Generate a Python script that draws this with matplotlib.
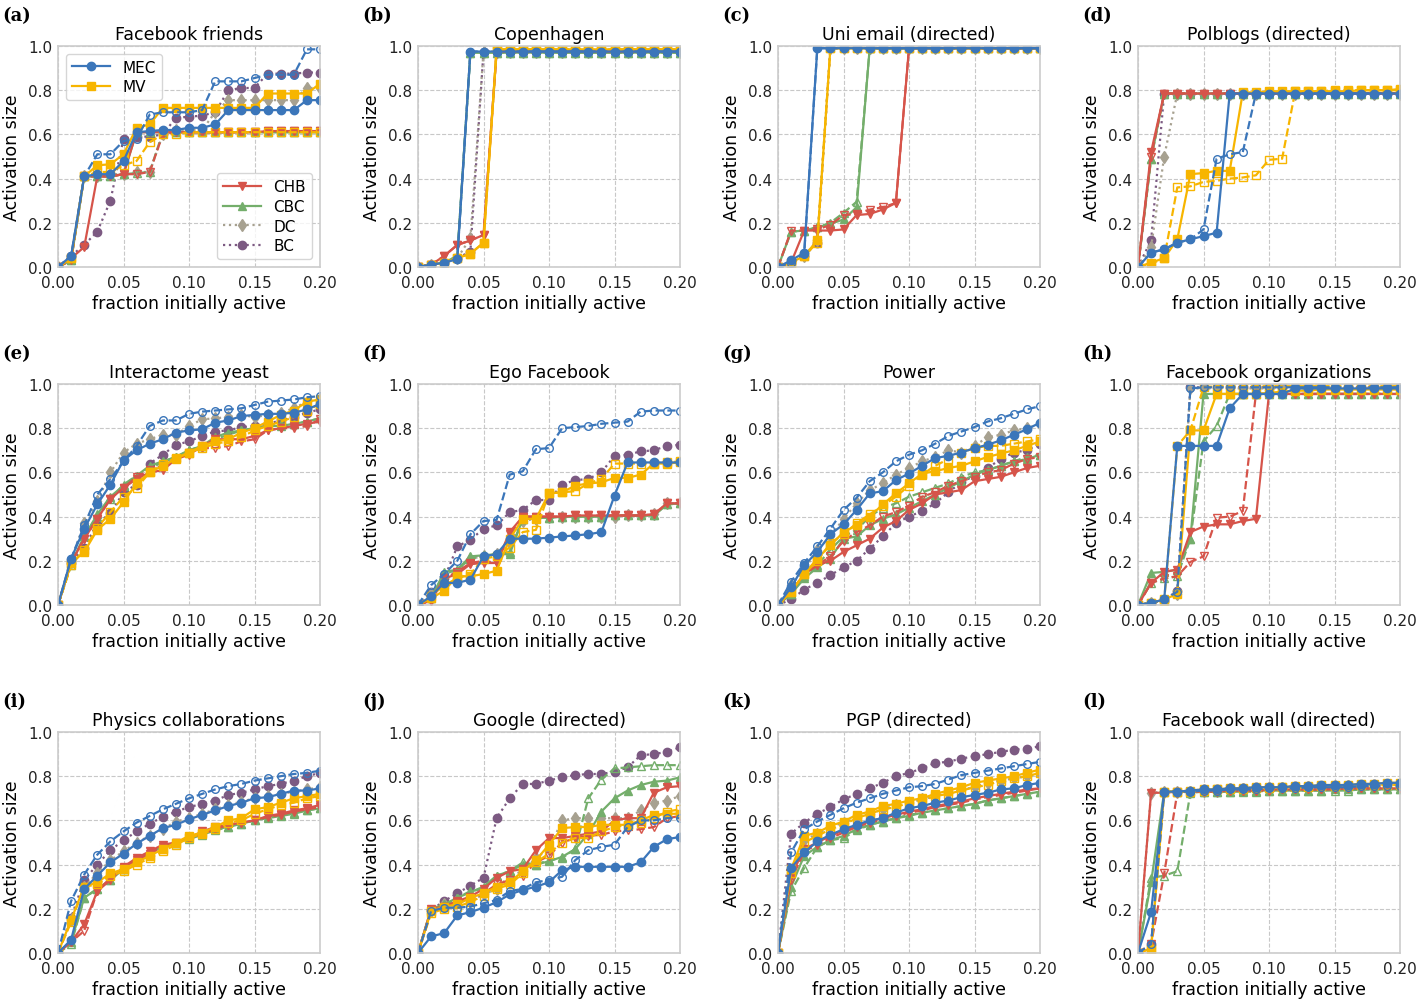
import matplotlib
matplotlib.use("Agg")
import matplotlib.pyplot as plt
from matplotlib.lines import Line2D

# fraction of nodes initially active
frac_active = [0.00, 0.01, 0.02, 0.03, 0.04, 0.05, 0.06, 0.07, 0.08, 0.09, 0.10,
               0.11, 0.12, 0.13, 0.14, 0.15, 0.16, 0.17, 0.18, 0.19, 0.20]

# "_d" = dashed / open-marker variant of a method
facebook_friends = {
    "MEC":   [0, .05, .41, .42, .42, .48, .61, .615, .62, .62, .63, .63, .645, .71, .71, .71, .71, .71, .71, .755, .755],
    "MEC_d": [0, .05, .41, .51, .51, .57, .58, .69, .70, .70, .70, .71, .84, .84, .84, .855, .87, .87, .87, .985, .985],
    "MV":    [0, .04, .41, .46, .465, .51, .63, .645, .72, .72, .72, .72, .72, .72, .72, .72, .785, .785, .785, .785, .83],
    "MV_d":  [0, .04, .41, .43, .43, .46, .48, .565, .60, .60, .61, .61, .61, .61, .61, .61, .61, .61, .61, .61, .61],
    "CHB":   [0, .04, .09, .41, .41, .42, .61, .61, .61, .61, .61, .61, .61, .61, .61, .61, .615, .615, .615, .615, .615],
    "CHB_d": [0, .03, .41, .41, .41, .42, .42, .43, .60, .61, .61, .61, .61, .61, .61, .61, .615, .615, .615, .615, .615],
    "CBC":   [0, .03, .41, .41, .41, .42, .61, .61, .61, .61, .61, .61, .61, .61, .61, .61, .61, .61, .61, .61, .61],
    "CBC_d": [0, .03, .41, .41, .41, .42, .425, .43, .61, .61, .61, .61, .61, .61, .61, .61, .61, .61, .61, .61, .61],
    "DC":    [0, .04, .41, .41, .42, .42, .43, .43, .60, .62, .62, .62, .70, .755, .755, .755, .755, .755, .755, .81, .81],
    "BC":    [0, .05, .10, .16, .30, .58, .59, .59, .60, .675, .68, .685, .70, .80, .81, .81, .875, .875, .875, .88, .88],
}

copenhagen = {
    "MEC":   [0, .01, .02, .035, .975, .975, .975, .975, .975, .975, .975, .975, .975, .975, .975, .975, .975, .975, .975, .975, .975],
    "MEC_d": [0, .01, .02, .035, .975, .975, .975, .975, .975, .975, .975, .975, .975, .975, .975, .975, .975, .975, .975, .975, .975],
    "MV":    [0, .01, .02, .04, .06, .11, .985, .985, .985, .985, .985, .985, .985, .985, .985, .985, .985, .985, .985, .985, .985],
    "MV_d":  [0, .01, .02, .04, .06, .11, .985, .985, .985, .985, .985, .985, .985, .985, .985, .985, .985, .985, .985, .985, .985],
    "CHB":   [0, .01, .05, .10, .12, .145, .975, .975, .975, .975, .975, .975, .975, .975, .975, .975, .975, .975, .975, .975, .975],
    "CHB_d": [0, .01, .05, .10, .12, .145, .975, .975, .975, .975, .975, .975, .975, .975, .975, .975, .975, .975, .975, .975, .975],
    "CBC":   [0, .01, .02, .05, .97, .97, .97, .97, .97, .97, .97, .97, .97, .97, .97, .97, .97, .97, .97, .97, .97],
    "CBC_d": [0, .01, .02, .05, .97, .97, .97, .97, .97, .97, .97, .97, .97, .97, .97, .97, .97, .97, .97, .97, .97],
    "DC":    [0, .01, .02, .04, .13, .975, .975, .975, .975, .975, .975, .975, .975, .975, .975, .975, .975, .975, .975, .975, .975],
    "BC":    [0, .01, .02, .04, .07, .975, .975, .975, .975, .975, .975, .975, .975, .975, .975, .975, .975, .975, .975, .975, .975],
}

uni_email = {
    "MEC":   [0, .03, .065, .99, .99, .99, .99, .99, .99, .99, .99, .99, .99, .99, .99, .99, .99, .99, .99, .99, .99],
    "MEC_d": [0, .02, .06, .99, .99, .99, .99, .99, .99, .99, .99, .99, .99, .99, .99, .99, .99, .99, .99, .99, .99],
    "MV":    [0, .02, .05, .12, .99, .99, .99, .99, .99, .99, .99, .99, .99, .99, .99, .99, .99, .99, .99, .99, .99],
    "MV_d":  [0, .01, .05, .11, .99, .99, .99, .99, .99, .99, .99, .99, .99, .99, .99, .99, .99, .99, .99, .99, .99],
    "CHB":   [0, .02, .165, .165, .165, .17, .235, .24, .26, .29, .99, .99, .99, .99, .99, .99, .99, .99, .99, .99, .99],
    "CHB_d": [0, .165, .165, .17, .19, .235, .24, .26, .27, .29, .99, .99, .99, .99, .99, .99, .99, .99, .99, .99, .99],
    "CBC":   [0, .16, .165, .18, .195, .215, .27, .99, .99, .99, .99, .99, .99, .99, .99, .99, .99, .99, .99, .99, .99],
    "CBC_d": [0, .16, .165, .18, .20, .245, .295, .99, .99, .99, .99, .99, .99, .99, .99, .99, .99, .99, .99, .99, .99],
    "DC":    [0, .02, .05, .12, .99, .99, .99, .99, .99, .99, .99, .99, .99, .99, .99, .99, .99, .99, .99, .99, .99],
    "BC":    [0, .02, .05, .11, .99, .99, .99, .99, .99, .99, .99, .99, .99, .99, .99, .99, .99, .99, .99, .99, .99],
}

polblogs = {
    "MEC":   [0, .065, .08, .11, .125, .14, .155, .785, .785, .785, .785, .785, .785, .785, .785, .785, .785, .785, .785, .785, .785],
    "MEC_d": [0, .065, .08, .11, .125, .17, .49, .51, .52, .785, .785, .785, .785, .785, .785, .785, .785, .785, .785, .785, .785],
    "MV":    [0, .02, .04, .125, .42, .425, .435, .435, .79, .79, .795, .795, .795, .795, .795, .795, .795, .80, .80, .80, .80],
    "MV_d":  [0, .015, .04, .36, .365, .385, .39, .40, .405, .415, .485, .49, .795, .795, .795, .80, .80, .80, .80, .80, .805],
    "CHB":   [0, .52, .785, .785, .785, .785, .785, .785, .785, .785, .785, .785, .785, .785, .785, .785, .785, .785, .785, .785, .785],
    "CHB_d": [0, .50, .785, .785, .785, .785, .785, .785, .785, .785, .785, .785, .785, .785, .785, .785, .785, .785, .785, .785, .785],
    "CBC":   [0, .49, .785, .785, .785, .785, .785, .785, .785, .785, .785, .785, .785, .785, .785, .785, .785, .785, .785, .785, .785],
    "CBC_d": [0, .49, .785, .785, .785, .785, .785, .785, .785, .785, .785, .785, .785, .785, .785, .785, .785, .785, .785, .785, .785],
    "DC":    [0, .09, .50, .785, .785, .785, .785, .785, .785, .785, .785, .785, .785, .785, .785, .785, .785, .785, .785, .785, .785],
    "BC":    [0, .12, .785, .785, .785, .785, .785, .785, .785, .785, .785, .785, .785, .785, .785, .785, .785, .785, .785, .785, .785],
}

interactome_yeast = {
    "MEC":   [0, .21, .345, .455, .545, .655, .70, .73, .75, .78, .79, .795, .825, .835, .855, .86, .865, .865, .87, .885, .91],
    "MEC_d": [0, .21, .36, .50, .57, .65, .72, .81, .835, .835, .865, .875, .88, .885, .89, .905, .92, .925, .93, .94, .945],
    "MV":    [0, .19, .24, .34, .39, .465, .55, .60, .63, .66, .69, .72, .74, .75, .78, .80, .83, .86, .88, .92, .93],
    "MV_d":  [0, .18, .25, .35, .42, .49, .53, .60, .64, .665, .69, .71, .73, .74, .76, .79, .81, .83, .85, .88, .91],
    "CHB":   [0, .19, .30, .39, .48, .53, .57, .60, .61, .66, .68, .72, .75, .75, .75, .765, .79, .80, .81, .82, .83],
    "CHB_d": [0, .19, .30, .39, .48, .53, .58, .61, .63, .66, .69, .71, .71, .72, .74, .75, .79, .80, .80, .81, .84],
    "CBC":   [0, .19, .31, .41, .49, .54, .585, .63, .65, .67, .70, .72, .76, .78, .79, .80, .81, .81, .82, .83, .845],
    "CBC_d": [0, .18, .31, .40, .48, .545, .585, .62, .645, .67, .70, .72, .75, .77, .79, .80, .81, .82, .82, .83, .845],
    "DC":    [0, .20, .37, .47, .60, .69, .73, .75, .77, .77, .81, .84, .845, .85, .86, .85, .86, .87, .89, .92, .93],
    "BC":    [0, .19, .26, .37, .415, .51, .545, .64, .68, .725, .74, .765, .785, .79, .805, .81, .82, .835, .85, .87, .885],
}

ego_facebook = {
    "MEC":   [0, .04, .10, .10, .115, .22, .23, .30, .30, .30, .305, .31, .315, .32, .33, .495, .645, .645, .645, .645, .645],
    "MEC_d": [0, .09, .14, .20, .32, .38, .385, .59, .605, .705, .71, .80, .805, .81, .82, .825, .83, .875, .88, .88, .88],
    "MV":    [0, .03, .065, .13, .13, .14, .155, .30, .39, .39, .505, .51, .54, .55, .555, .575, .575, .59, .64, .64, .645],
    "MV_d":  [0, .04, .09, .12, .14, .21, .22, .26, .33, .34, .505, .51, .515, .55, .57, .64, .64, .64, .64, .645, .65],
    "CHB":   [0, .02, .12, .14, .185, .19, .19, .33, .40, .40, .40, .40, .405, .405, .405, .405, .405, .405, .41, .46, .46],
    "CHB_d": [0, .02, .12, .15, .19, .20, .19, .32, .40, .40, .40, .40, .405, .405, .405, .405, .405, .405, .41, .46, .46],
    "CBC":   [0, .03, .15, .16, .22, .225, .23, .23, .39, .395, .395, .40, .40, .40, .40, .405, .405, .405, .405, .455, .46],
    "CBC_d": [0, .03, .14, .16, .21, .22, .23, .24, .39, .395, .395, .40, .40, .40, .40, .405, .405, .405, .405, .455, .46],
    "DC":    [0, .05, .13, .15, .21, .22, .23, .28, .38, .39, .40, .40, .40, .40, .40, .40, .405, .405, .41, .46, .46],
    "BC":    [0, .06, .12, .265, .295, .345, .36, .42, .43, .475, .475, .545, .565, .57, .60, .675, .68, .695, .70, .72, .725],
}

power = {
    "MEC":   [0, .08, .18, .24, .32, .365, .43, .505, .515, .565, .595, .63, .665, .675, .69, .71, .725, .745, .77, .795, .825],
    "MEC_d": [0, .105, .19, .265, .345, .43, .485, .56, .60, .65, .68, .70, .73, .765, .785, .805, .83, .845, .865, .885, .90],
    "MV":    [0, .06, .14, .21, .27, .33, .36, .40, .455, .505, .55, .595, .605, .62, .63, .65, .67, .685, .70, .72, .74],
    "MV_d":  [0, .06, .14, .20, .28, .32, .37, .41, .45, .49, .54, .59, .63, .66, .69, .71, .72, .72, .73, .74, .75],
    "CHB":   [0, .06, .14, .18, .20, .24, .27, .30, .35, .38, .43, .46, .50, .51, .52, .56, .57, .58, .60, .62, .63],
    "CHB_d": [0, .06, .14, .18, .22, .29, .33, .36, .40, .42, .45, .49, .51, .54, .56, .58, .60, .61, .64, .66, .67],
    "CBC":   [0, .05, .12, .17, .21, .30, .31, .36, .39, .41, .44, .47, .50, .53, .56, .59, .61, .63, .65, .66, .68],
    "CBC_d": [0, .05, .13, .18, .25, .31, .34, .40, .44, .46, .49, .51, .53, .55, .58, .60, .61, .63, .65, .67, .68],
    "DC":    [0, .09, .16, .25, .31, .39, .46, .52, .55, .59, .62, .65, .67, .70, .69, .72, .76, .77, .79, .80, .82],
    "BC":    [0, .025, .07, .10, .135, .17, .20, .255, .31, .37, .40, .425, .46, .51, .555, .585, .62, .66, .69, .70, .73],
}

facebook_orgs = {
    "MEC":   [0, .01, .025, .72, .72, .72, .72, .89, .955, .955, .955, .955, .98, .98, .98, .98, .98, .98, .98, .98, .98],
    "MEC_d": [0, .01, .025, .06, .98, .985, .985, .985, .985, .985, .985, .985, .985, .985, .985, .985, .985, .985, .985, .985, .985],
    "MV":    [0, .01, .025, .05, .79, .79, .955, .955, .955, .955, .96, .965, .97, .97, .975, .975, .975, .975, .975, .975, .975],
    "MV_d":  [0, .01, .02, .72, .79, .985, .99, .99, .99, .99, .99, .99, .99, .99, .99, .99, .99, .99, .99, .99, .99],
    "CHB":   [0, .10, .15, .16, .33, .355, .365, .365, .38, .39, .955, .955, .955, .955, .955, .955, .955, .955, .955, .955, .955],
    "CHB_d": [0, .10, .12, .13, .195, .22, .395, .40, .425, .955, .955, .955, .955, .955, .955, .955, .955, .955, .955, .955, .955],
    "CBC":   [0, .145, .15, .16, .30, .955, .955, .955, .955, .955, .955, .955, .955, .955, .955, .955, .955, .955, .955, .955, .955],
    "CBC_d": [0, .10, .12, .13, .30, .74, .81, .955, .955, .955, .955, .955, .955, .955, .955, .955, .955, .955, .955, .955, .955],
    "DC":    [0, .01, .02, .05, .98, .98, .98, .98, .98, .98, .98, .98, .98, .98, .98, .98, .98, .98, .98, .98, .98],
    "BC":    [0, .01, .02, .065, .985, .985, .985, .985, .985, .985, .985, .985, .985, .985, .985, .985, .985, .985, .985, .985, .985],
}

physics_collab = {
    "MEC":   [0, .06, .29, .35, .41, .45, .495, .53, .565, .58, .605, .625, .645, .665, .68, .70, .705, .72, .735, .735, .745],
    "MEC_d": [0, .235, .355, .445, .505, .55, .59, .62, .65, .675, .70, .72, .74, .755, .765, .78, .79, .80, .81, .815, .825],
    "MV":    [0, .15, .30, .32, .36, .38, .41, .44, .47, .50, .53, .545, .57, .60, .61, .65, .66, .68, .70, .71, .72],
    "MV_d":  [0, .14, .30, .31, .35, .37, .40, .43, .46, .49, .52, .54, .56, .59, .60, .63, .65, .67, .68, .70, .71],
    "CHB":   [0, .05, .13, .28, .33, .39, .43, .46, .49, .50, .52, .55, .57, .58, .59, .60, .62, .63, .645, .655, .67],
    "CHB_d": [0, .05, .10, .28, .34, .385, .42, .45, .48, .50, .52, .54, .56, .58, .59, .60, .615, .625, .64, .65, .66],
    "CBC":   [0, .05, .25, .29, .33, .38, .42, .455, .48, .50, .52, .54, .56, .57, .585, .60, .615, .625, .635, .645, .655],
    "CBC_d": [0, .04, .25, .29, .33, .38, .415, .45, .475, .50, .515, .535, .555, .57, .585, .60, .61, .62, .63, .645, .655],
    "DC":    [0, .15, .30, .36, .42, .46, .50, .53, .56, .595, .61, .63, .65, .67, .685, .70, .71, .72, .73, .74, .75],
    "BC":    [0, .16, .33, .40, .465, .51, .55, .585, .615, .64, .66, .675, .69, .715, .725, .74, .755, .765, .78, .80, .815],
}

google = {
    "MEC":   [0, .075, .09, .17, .185, .205, .23, .265, .285, .30, .32, .375, .39, .39, .39, .39, .39, .41, .48, .515, .525],
    "MEC_d": [0, .19, .205, .205, .21, .225, .24, .28, .29, .32, .33, .345, .42, .465, .48, .49, .57, .60, .60, .61, .61],
    "MV":    [0, .19, .21, .22, .25, .27, .30, .32, .37, .42, .49, .565, .57, .57, .58, .58, .58, .60, .625, .63, .63],
    "MV_d":  [0, .18, .20, .21, .23, .26, .29, .31, .36, .41, .45, .50, .52, .52, .55, .57, .58, .59, .61, .64, .65],
    "CHB":   [0, .20, .21, .235, .255, .29, .34, .37, .38, .465, .52, .52, .53, .54, .55, .60, .61, .61, .725, .75, .755],
    "CHB_d": [0, .19, .21, .23, .24, .27, .31, .33, .35, .41, .44, .50, .52, .53, .535, .55, .555, .56, .57, .61, .62],
    "CBC":   [0, .20, .22, .25, .275, .30, .35, .37, .40, .40, .415, .435, .47, .54, .64, .70, .735, .76, .775, .78, .795],
    "CBC_d": [0, .20, .21, .25, .28, .29, .35, .37, .41, .40, .42, .43, .47, .70, .785, .835, .84, .845, .85, .85, .85],
    "DC":    [0, .19, .22, .24, .235, .265, .29, .35, .37, .43, .47, .60, .61, .61, .61, .61, .61, .645, .68, .69, .71],
    "BC":    [0, .195, .235, .27, .305, .34, .61, .70, .765, .765, .78, .795, .805, .81, .81, .82, .84, .895, .90, .91, .93],
}

pgp = {
    "MEC":   [0, .385, .455, .505, .535, .56, .58, .60, .61, .635, .655, .665, .68, .69, .705, .715, .725, .74, .745, .76, .77],
    "MEC_d": [0, .455, .56, .595, .625, .655, .68, .70, .72, .735, .75, .755, .765, .785, .805, .815, .825, .835, .845, .855, .865],
    "MV":    [0, .38, .53, .545, .575, .595, .625, .64, .665, .675, .69, .70, .72, .735, .75, .77, .78, .79, .80, .815, .83],
    "MV_d":  [0, .36, .50, .53, .56, .58, .61, .63, .65, .66, .68, .69, .71, .72, .735, .75, .76, .78, .79, .80, .815],
    "CHB":   [0, .35, .47, .50, .53, .555, .575, .595, .61, .625, .64, .65, .665, .675, .685, .70, .71, .72, .73, .74, .745],
    "CHB_d": [0, .33, .46, .49, .52, .545, .57, .59, .605, .62, .635, .645, .66, .67, .68, .695, .705, .715, .725, .735, .745],
    "CBC":   [0, .30, .44, .48, .51, .53, .56, .58, .595, .61, .62, .635, .645, .655, .665, .675, .69, .70, .71, .72, .73],
    "CBC_d": [0, .28, .385, .48, .51, .52, .555, .58, .595, .61, .625, .635, .645, .655, .665, .675, .69, .70, .71, .72, .73],
    "DC":    [0, .36, .51, .54, .57, .59, .61, .63, .65, .67, .68, .695, .71, .725, .74, .75, .77, .78, .79, .80, .81],
    "BC":    [0, .54, .59, .63, .66, .695, .72, .745, .77, .80, .815, .835, .86, .865, .88, .89, .90, .91, .92, .925, .935],
}

facebook_wall = {
    "MEC":   [0, .185, .73, .73, .735, .74, .74, .745, .745, .75, .75, .75, .755, .755, .76, .76, .76, .765, .765, .77, .77],
    "MEC_d": [0, .04, .73, .73, .73, .735, .735, .74, .74, .74, .745, .745, .745, .75, .75, .75, .75, .755, .755, .755, .755],
    "MV":    [0, .02, .73, .73, .735, .74, .74, .745, .745, .75, .75, .75, .755, .755, .76, .76, .76, .765, .765, .77, .77],
    "MV_d":  [0, .02, .73, .73, .73, .735, .74, .74, .74, .745, .745, .75, .75, .75, .755, .755, .755, .76, .76, .76, .76],
    "CHB":   [0, .725, .725, .73, .73, .73, .735, .735, .735, .735, .74, .74, .74, .74, .74, .745, .745, .745, .745, .745, .745],
    "CHB_d": [0, .04, .36, .725, .73, .73, .73, .735, .735, .735, .735, .74, .74, .74, .74, .74, .745, .745, .745, .745, .745],
    "CBC":   [0, .32, .73, .73, .73, .73, .73, .73, .735, .735, .735, .735, .735, .735, .735, .74, .74, .74, .74, .74, .74],
    "CBC_d": [0, .34, .35, .37, .725, .73, .73, .73, .73, .73, .735, .735, .735, .735, .735, .735, .735, .74, .74, .74, .74],
    "DC":    [0, .725, .73, .73, .73, .735, .735, .74, .74, .74, .745, .745, .745, .75, .75, .75, .755, .755, .755, .76, .76],
    "BC":    [0, .04, .73, .73, .735, .74, .74, .745, .745, .75, .75, .75, .755, .755, .755, .76, .76, .76, .765, .765, .765],
}

panel_titles = ["Facebook friends", "Copenhagen", "Uni email (directed)", "Polblogs (directed)",
                "Interactome yeast", "Ego Facebook", "Power", "Facebook organizations",
                "Physics collaborations", "Google (directed)", "PGP (directed)", "Facebook wall (directed)"]
panel_letters = ["a", "b", "c", "d", "e", "f", "g", "h", "i", "j", "k", "l"]
panel_data = [facebook_friends, copenhagen, uni_email, polblogs,
              interactome_yeast, ego_facebook, power, facebook_orgs,
              physics_collab, google, pgp, facebook_wall]

# colours per method
C_MEC = "#3b76ba"
C_MV = "#f7b500"
C_CHB = "#d6544a"
C_CBC = "#74ae6b"
C_DC = "#a7a190"
C_BC = "#7c5a82"

# drawing order: last one ends on top
styles = {
    "BC":    dict(color=C_BC, marker="o", ls=":", mfc=C_BC, ms=6),
    "DC":    dict(color=C_DC, marker="d", ls=":", mfc=C_DC, ms=6.5),
    "CBC_d": dict(color=C_CBC, marker="^", ls="--", mfc="none", ms=5.5),
    "CBC":   dict(color=C_CBC, marker="^", ls="-", mfc=C_CBC, ms=6),
    "CHB_d": dict(color=C_CHB, marker="v", ls="--", mfc="none", ms=5.5),
    "CHB":   dict(color=C_CHB, marker="v", ls="-", mfc=C_CHB, ms=6),
    "MV_d":  dict(color=C_MV, marker="s", ls="--", mfc="none", ms=5.5),
    "MV":    dict(color=C_MV, marker="s", ls="-", mfc=C_MV, ms=6),
    "MEC_d": dict(color=C_MEC, marker="o", ls="--", mfc="none", ms=5.5),
    "MEC":   dict(color=C_MEC, marker="o", ls="-", mfc=C_MEC, ms=6),
}


def handle(key, label):
    st = styles[key]
    return Line2D([], [], color=st["color"], ls=st["ls"], lw=1.6, marker=st["marker"],
                  ms=st["ms"], mfc=st["mfc"], mec=st["color"], label=label)


W, H = 1424, 1004
fig = plt.figure(figsize=(W / 100, H / 100), dpi=100)

lefts = [58, 418, 778, 1138]
tops = [47, 385, 733]
ax_w, ax_h = 262, 221

for i, (data, title, letter) in enumerate(zip(panel_data, panel_titles, panel_letters)):
    row, col = divmod(i, 4)
    x0 = lefts[col]
    y0 = tops[row]
    ax = fig.add_axes([x0 / W, 1 - (y0 + ax_h) / H, ax_w / W, ax_h / H])

    for key, st in styles.items():
        ax.plot(frac_active, data[key], color=st["color"], ls=st["ls"], lw=1.6,
                marker=st["marker"], ms=st["ms"], mfc=st["mfc"], mec=st["color"], mew=1.0)

    ax.set_xlim(0, 0.2)
    ax.set_ylim(0, 1.0)
    ax.set_xticks([0, 0.05, 0.10, 0.15, 0.20])
    ax.set_xticklabels(["0.00", "0.05", "0.10", "0.15", "0.20"])
    ax.set_yticks([0, 0.2, 0.4, 0.6, 0.8, 1.0])
    ax.set_yticklabels(["0.0", "0.2", "0.4", "0.6", "0.8", "1.0"])
    ax.tick_params(length=0, labelsize=11, labelcolor="#222222")
    ax.tick_params(axis="x", pad=6)
    ax.tick_params(axis="y", pad=4)
    ax.grid(True, ls="--", color="#c8c8c8", lw=0.8)
    ax.set_axisbelow(True)
    for sp in ax.spines.values():
        sp.set_color("#cccccc")
        sp.set_linewidth(1.2)
    ax.set_title(title, fontsize=12.5, pad=5)
    ax.set_xlabel("fraction initially active", fontsize=12.5, labelpad=2.5)
    ax.set_ylabel("Activation size", fontsize=12.5, labelpad=5)

    fig.text((x0 - 56) / W, 1 - (y0 - 31) / H, f"({letter})",
             fontsize=13, fontweight="bold", family="DejaVu Serif", va="center", ha="left")

    if i == 0:
        leg1 = ax.legend(handles=[handle("MEC", "MEC"), handle("MV", "MV")],
                         loc="upper left", fontsize=11, frameon=True, borderpad=0.4,
                         handlelength=2.5, labelspacing=0.3)
        leg1.get_frame().set_edgecolor("#cccccc")
        ax.add_artist(leg1)
        leg2 = ax.legend(handles=[handle("CHB", "CHB"), handle("CBC", "CBC"),
                                  handle("DC", "DC"), handle("BC", "BC")],
                         loc="lower right", fontsize=11, frameon=True, borderpad=0.4,
                         handlelength=2.5, labelspacing=0.3)
        leg2.get_frame().set_edgecolor("#cccccc")

fig.savefig("out.png", dpi=100)
